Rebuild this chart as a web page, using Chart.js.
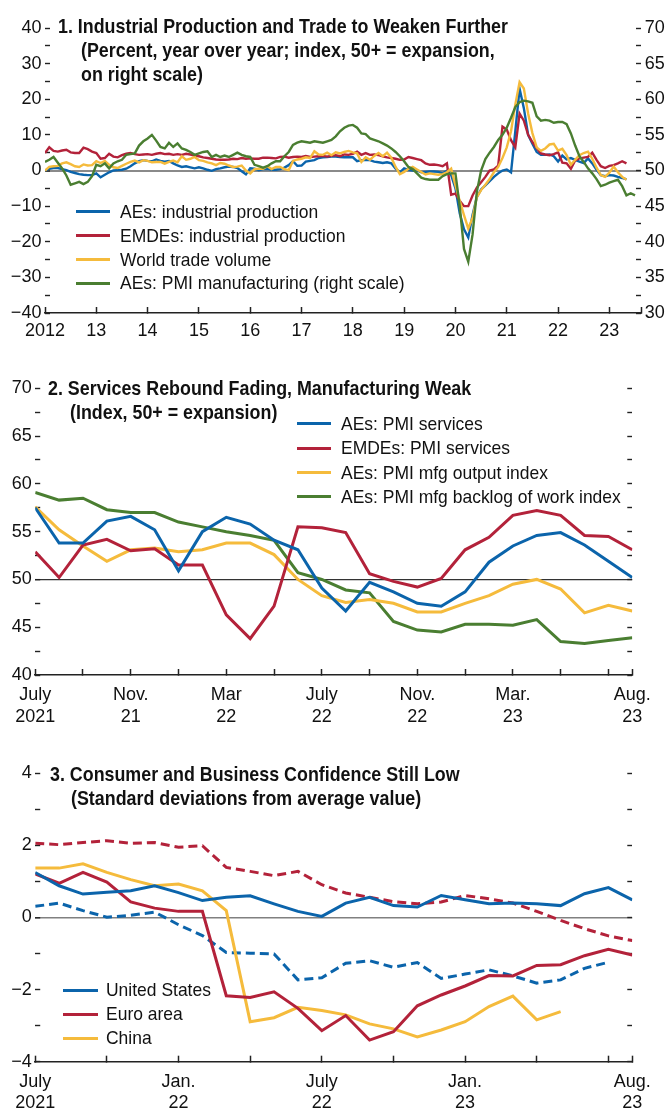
<!DOCTYPE html>
<html><head><meta charset="utf-8">
<script src="https://cdn.jsdelivr.net/npm/chart.js@4.4.0/dist/chart.umd.min.js"></script>
<style>
html,body{margin:0;padding:0;background:#fff}
body{width:666px;height:1113px;position:relative;overflow:hidden;font-family:"Liberation Sans",Arial,sans-serif;color:#111}
canvas{position:absolute;left:0}
.t{position:absolute;white-space:nowrap;font-weight:bold;font-size:21px;line-height:24px;transform:scaleX(0.85);transform-origin:0 50%}
.l{position:absolute;white-space:nowrap;font-size:19px;line-height:24px;transform:scaleX(0.92);transform-origin:0 50%}
.s{position:absolute;height:3px}
</style></head><body>
<canvas id="c1" width="666" height="345" style="top:0px"></canvas>
<canvas id="c2" width="666" height="385" style="top:345px"></canvas>
<canvas id="c3" width="666" height="383" style="top:730px"></canvas>
<div id="ov"></div>
<script>
// ---------- Panel 1 data (monthly, Jan 2012 onward) ----------
const p1AEsIP = [0.0,0.5,0.7,0.7,0.4,0.1,-0.4,-0.7,-1.0,-1.2,
-1.3,-1.3,-0.8,-1.9,-1.2,-0.5,0.0,0.1,0.2,0.5,
1.2,2.0,2.6,2.9,2.7,2.6,3.1,2.7,2.5,2.7,
2.0,1.4,1.0,1.2,0.9,0.6,0.9,0.6,0.2,-0.1,
0.4,0.6,0.9,1.1,1.0,0.7,-0.2,-1.1,0.6,0.5,
0.1,0.4,0.5,0.2,0.2,0.4,0.8,1.5,2.6,1.3,
1.4,2.5,2.7,2.9,3.5,3.7,3.8,3.9,3.9,3.8,
3.7,3.7,3.7,2.6,2.9,2.9,2.9,2.5,2.3,2.1,
2.3,2.0,0.5,-0.5,0.6,0.2,0.0,0.0,-0.5,-0.4,
-0.3,-0.3,-0.4,-0.8,-0.1,-1.3,-5.0,-12.0,-16.5,-18.8,
-12.5,-7.5,-5.3,-4.2,-3.0,-1.8,-0.8,0.0,0.3,-0.5,
11.0,23.0,17.5,10.0,7.5,5.2,4.4,4.4,4.5,4.0,
2.5,4.2,3.1,3.5,3.0,2.5,2.1,3.4,2.0,0.2,
-1.3,-1.6,-1.3,-1.4,-1.8,-2.1,-2.5];
const p1EMDEsIP = [4.9,6.5,5.5,5.3,5.6,5.8,5.1,4.9,4.9,6.4,
6.0,5.3,4.9,3.3,3.5,4.7,3.9,3.7,4.3,4.7,
4.9,4.6,4.4,4.5,4.6,4.4,4.7,4.9,4.6,4.7,
4.4,4.6,4.4,4.7,4.5,4.2,4.0,3.7,3.5,3.3,
3.1,3.0,3.0,3.1,3.3,3.2,3.5,3.3,3.4,3.3,
3.3,3.6,3.6,3.5,3.4,3.8,3.9,3.6,3.8,3.9,
3.8,4.1,3.8,3.9,4.0,4.1,3.9,4.1,4.3,4.0,
4.5,4.4,4.7,5.3,4.4,4.9,4.4,4.5,4.3,4.0,
3.7,3.5,3.3,3.0,3.1,3.8,3.5,3.2,2.9,2.0,
1.6,1.7,1.5,1.2,2.0,-6.8,-6.5,-8.5,-10.0,-10.0,
-7.0,-4.8,-3.3,-1.8,0.0,0.3,1.4,12.3,11.5,8.5,
6.5,16.0,14.0,10.0,8.0,6.3,4.8,4.5,4.3,4.6,
5.1,2.2,2.0,0.5,2.8,3.4,3.6,3.8,5.0,3.0,
1.2,0.7,1.3,1.5,2.0,2.6,2.0];
const p1TradeVolume = [0.0,1.0,1.2,1.3,2.0,2.3,1.8,1.2,1.0,1.7,
1.4,1.5,2.6,2.1,2.7,1.6,0.9,0.7,1.3,1.9,
2.4,2.8,2.3,2.9,2.7,2.3,2.4,2.4,1.9,2.4,
2.8,2.3,4.0,3.0,3.3,3.8,2.9,2.7,2.3,2.0,
1.5,2.1,1.9,1.4,1.0,1.1,1.4,0.0,-0.8,0.4,
0.5,0.5,1.2,0.4,1.0,1.0,0.4,0.1,2.7,3.1,
3.3,3.7,3.5,5.4,4.5,4.4,5.0,4.3,5.1,4.8,
5.2,5.5,5.1,4.8,2.4,3.7,3.0,4.1,4.9,4.0,
5.0,3.6,1.0,-1.0,-0.4,0.5,1.0,0.3,-0.4,-1.1,
-0.8,-1.0,-1.2,-1.0,-0.5,0.5,-4.2,-8.5,-12.5,-16.3,
-13.3,-7.5,-5.5,-4.0,-2.4,-0.5,1.0,3.5,6.5,11.0,
18.5,24.8,23.0,16.0,10.5,6.5,5.5,6.2,7.3,7.5,
5.6,6.1,4.3,1.6,3.0,4.3,4.9,5.3,3.3,0.8,
-1.3,-1.8,-0.6,1.1,-0.5,-1.8,-2.6];
const p1AEsPMI = [51.2,51.5,51.9,51.1,50.3,49.3,48.0,48.2,48.4,48.1,
48.4,49.2,50.8,50.6,51.0,50.3,51.0,51.3,51.5,52.2,
52.3,52.4,53.5,54.1,54.5,55.0,54.2,53.3,53.1,53.9,
53.3,53.8,53.1,52.9,52.6,52.2,52.4,52.6,52.7,51.9,
52.2,51.9,52.1,51.9,52.2,52.5,52.2,52.0,51.9,50.8,
50.6,50.4,50.6,51.0,51.3,51.3,52.0,52.6,53.6,53.9,
54.1,54.0,53.9,54.1,54.0,53.9,54.1,54.3,54.8,55.5,
56.0,56.3,56.4,56.0,55.2,55.1,54.5,54.3,54.1,53.8,
53.5,53.1,52.6,52.0,51.3,50.5,50.2,49.6,49.0,48.8,
48.7,48.7,48.7,49.2,49.5,49.6,49.6,45.0,39.0,37.2,
41.0,47.0,50.0,51.6,52.5,53.3,54.3,55.0,56.0,57.4,
58.9,59.6,59.8,59.7,59.5,57.6,57.0,57.1,57.0,56.7,
56.8,56.8,56.5,55.2,53.5,52.0,51.2,50.3,49.6,48.8,
47.8,48.0,48.3,48.5,48.7,47.8,46.5,46.8,46.5];
const p1YearTicks = [0,12,24,36,48,60,72,84,96,108,120,132];
const p1YearLabels = ['2012','13','14','15','16','17','18','19','20','21','22','23'];
const p1LeftTicks = [-40,-35,-30,-25,-20,-15,-10,-5,0,5,10,15,20,25,30,35,40];
const p1RightTicks = [30,32.5,35,37.5,40,42.5,45,47.5,50,52.5,55,57.5,60,62.5,65,67.5,70];

// ---------- Panel 2 data (monthly, July 2021 - Aug 2023) ----------
const p2AEsServices = [57.5,53.8,53.8,56.1,56.6,55.2,50.9,55.0,56.5,55.8,54.1,53.1,49.1,46.7,49.7,48.7,47.5,47.2,48.7,51.8,53.5,54.6,54.9,53.6,51.9,50.2];
const p2EMDEsServices = [52.9,50.2,53.6,54.2,53.0,53.2,51.5,51.5,46.3,43.8,47.2,55.5,55.4,54.9,50.6,49.8,49.2,50.1,53.1,54.4,56.7,57.2,56.7,54.6,54.5,53.1];
const p2MfgOutput = [57.6,55.2,53.5,51.9,53.1,53.3,52.9,53.1,53.8,53.8,52.6,50.0,48.3,47.6,47.9,47.5,46.6,46.6,47.5,48.3,49.5,50.0,49.0,46.5,47.3,46.7];
const p2MfgBacklog = [59.1,58.3,58.5,57.3,57.0,57.0,56.0,55.5,55.0,54.6,54.1,50.7,50.0,48.9,48.6,45.6,44.7,44.5,45.3,45.3,45.2,45.8,43.5,43.3,43.6,43.9];
const p2XTicks = [0,2,4,6,8,10,12,14,16,18,20,22,24,25];
const p2XLabelMonths = [0,4,8,12,16,20,25];
const p2XLabels = [['July','2021'],['Nov.','21'],['Mar','22'],['July','22'],['Nov.','22'],['Mar.','23'],['Aug.','23']];
const p2YTicks = [40,42.5,45,47.5,50,52.5,55,57.5,60,62.5,65,67.5,70];

// ---------- Panel 3 data (monthly, July 2021 - Aug 2023) ----------
const p3USSolid = [1.25,0.88,0.65,0.70,0.74,0.88,0.69,0.47,0.56,0.60,0.38,0.17,0.03,0.40,0.56,0.33,0.29,0.61,0.49,0.38,0.40,0.38,0.33,0.66,0.83,0.49];
const p3USDashed = [0.31,0.40,0.19,0.01,0.06,0.15,-0.20,-0.50,-0.97,-0.99,-1.01,-1.73,-1.67,-1.27,-1.20,-1.38,-1.25,-1.69,-1.57,-1.45,-1.62,-1.82,-1.73,-1.41,-1.24];
const p3EuroSolid = [1.21,0.95,1.25,0.98,0.43,0.26,0.17,0.17,-2.17,-2.22,-2.06,-2.52,-3.14,-2.72,-3.40,-3.17,-2.45,-2.15,-1.90,-1.61,-1.62,-1.33,-1.31,-1.06,-0.88,-1.04];
const p3EuroDashed = [2.06,2.02,2.08,2.13,2.06,2.08,1.95,1.99,1.39,1.28,1.16,1.28,0.91,0.68,0.56,0.44,0.38,0.43,0.61,0.52,0.40,0.17,-0.08,-0.31,-0.51,-0.64];
const p3ChinaSolid = [1.37,1.37,1.49,1.25,1.05,0.88,0.93,0.74,0.19,-2.89,-2.78,-2.49,-2.58,-2.70,-2.95,-3.09,-3.31,-3.12,-2.89,-2.47,-2.18,-2.84,-2.61];
const p3XTicks = [0,3,6,9,12,15,18,21,24,25];
const p3XLabelMonths = [0,6,12,18,25];
const p3XLabels = [['July','2021'],['Jan.','22'],['July','22'],['Jan.','23'],['Aug.','23']];
const p3YTicks = [-4,-3,-2,-1,0,1,2,3,4];

// ---------- Titles and legends ----------
const BLUE = '#0b64ab', RED = '#b3223a', YELLOW = '#f5bb3c', GREEN = '#4a7e31';
const p1Title = ['1. Industrial Production and Trade to Weaken Further','(Percent, year over year; index, 50+ = expansion,','on right scale)'];
const p2Title = ['2. Services Rebound Fading, Manufacturing Weak','(Index, 50+ = expansion)'];
const p3Title = ['3. Consumer and Business Confidence Still Low','(Standard deviations from average value)'];
const p1Legend = ['AEs: industrial production','EMDEs: industrial production','World trade volume','AEs: PMI manufacturing (right scale)'];
const p2Legend = ['AEs: PMI services','EMDEs: PMI services','AEs: PMI mfg output index','AEs: PMI mfg backlog of work index'];
const p3Legend = ['United States','Euro area','China'];

// ---------- helpers ----------
const minus = v => (v < 0 ? '\u2212' + Math.abs(v) : '' + v);
const toXY = arr => arr.map((v, i) => ({x: i, y: v}));
const TICKFONT = {family: '"Liberation Sans", Arial, sans-serif', size: 18};
Chart.defaults.font.family = TICKFONT.family;

function xAxis(tickVals, labelFn, height, max, pad) {
  return {
    type: 'linear', min: 0, max: max,
    afterBuildTicks: s => { s.ticks = tickVals.map(v => ({value: v})); },
    afterFit: s => { s.height = height; },
    ticks: {autoSkip: false, maxRotation: 0, minRotation: 0, font: TICKFONT, color: '#111', padding: pad,
            callback: v => labelFn(v)},
    grid: {drawOnChartArea: false, drawTicks: true, tickLength: -6, tickColor: '#222', tickWidth: 1.5, color: '#222'},
    border: {display: true, color: '#222', width: 1.6}
  };
}
function yAxis(pos, tickVals, labelFn, width, min, max, zeroVal, zeroColor, zeroWidth, pad) {
  return {
    type: 'linear', position: pos, min: min, max: max,
    afterBuildTicks: s => { s.ticks = tickVals.map(v => ({value: v})); },
    afterFit: s => { s.width = width; },
    ticks: {autoSkip: false, font: TICKFONT, color: '#111', padding: pad, callback: v => labelFn(v)},
    grid: {
      drawOnChartArea: zeroVal !== null, drawTicks: true, tickLength: -5, tickColor: '#222', tickWidth: 1.4,
      color: c => (c.tick && c.tick.value === zeroVal ? zeroColor : 'rgba(0,0,0,0)'),
      lineWidth: c => (c.tick && c.tick.value === zeroVal ? zeroWidth : 1)
    },
    border: {display: false}
  };
}
const baseOpts = {
  responsive: false, animation: false, devicePixelRatio: 1,
  plugins: {legend: {display: false}, tooltip: {enabled: false}},
  elements: {point: {radius: 0}, line: {tension: 0, borderCapStyle: 'butt', borderJoinStyle: 'miter'}}
};
function lbl(months, labels) { return v => { const i = months.indexOf(v); return i >= 0 ? labels[i] : ''; }; }

// ---------- Panel 1 ----------
new Chart(document.getElementById('c1'), {
  type: 'line',
  data: {datasets: [
    {data: toXY(p1AEsIP), borderColor: BLUE, borderWidth: 2.4, yAxisID: 'y', order: 3},
    {data: toXY(p1EMDEsIP), borderColor: RED, borderWidth: 2.4, yAxisID: 'y', order: 2},
    {data: toXY(p1TradeVolume), borderColor: YELLOW, borderWidth: 2.4, yAxisID: 'y', order: 1},
    {data: toXY(p1AEsPMI), borderColor: GREEN, borderWidth: 2.4, yAxisID: 'y2', order: 0}
  ]},
  options: Object.assign({}, baseOpts, {
    layout: {padding: {top: 28, left: 0, right: 0, bottom: 0}},
    scales: {
      x: xAxis(p1YearTicks.concat([139.4]), lbl(p1YearTicks, p1YearLabels), 32, 139.4, 13),
      y: yAxis('left', p1LeftTicks, v => (v % 10 === 0 ? minus(v) : ''), 45, -40, 40, 0, '#8a8a8a', 2, 8.6),
      y2: yAxis('right', p1RightTicks, v => (v % 5 === 0 ? '' + v : ''), 25, 30, 70, null, '', 1, 8.7)
    }
  })
});

// ---------- Panel 2 ----------
new Chart(document.getElementById('c2'), {
  type: 'line',
  data: {datasets: [
    {data: toXY(p2AEsServices), borderColor: BLUE, borderWidth: 3, order: 0},
    {data: toXY(p2EMDEsServices), borderColor: RED, borderWidth: 3, order: 1},
    {data: toXY(p2MfgOutput), borderColor: YELLOW, borderWidth: 3, order: 2},
    {data: toXY(p2MfgBacklog), borderColor: GREEN, borderWidth: 3, order: 3}
  ]},
  options: Object.assign({}, baseOpts, {
    layout: {padding: {top: 43.3, left: 0, right: 0, bottom: 0}},
    scales: {
      x: xAxis(p2XTicks, lbl(p2XLabelMonths, p2XLabels), 55, 25, 15.2),
      y: yAxis('left', p2YTicks, v => (v % 5 === 0 ? '' + v : ''), 35, 40, 70, 50, '#333', 1.3, 8.5),
      y2: yAxis('right', p2YTicks, v => '', 24.3, 40, 70, null, '', 1, 4)
    }
  })
});

// ---------- Panel 3 ----------
new Chart(document.getElementById('c3'), {
  type: 'line',
  data: {datasets: [
    {data: toXY(p3USSolid), borderColor: BLUE, borderWidth: 3, order: 0},
    {data: toXY(p3EuroSolid), borderColor: RED, borderWidth: 3, order: 1},
    {data: toXY(p3ChinaSolid), borderColor: YELLOW, borderWidth: 3, order: 2},
    {data: toXY(p3USDashed), borderColor: BLUE, borderWidth: 3, borderDash: [9, 5], order: 3},
    {data: toXY(p3EuroDashed), borderColor: RED, borderWidth: 3, borderDash: [9, 5], order: 4}
  ]},
  options: Object.assign({}, baseOpts, {
    layout: {padding: {top: 43.3, left: 0, right: 0, bottom: 0}},
    scales: {
      x: xAxis(p3XTicks, lbl(p3XLabelMonths, p3XLabels), 51.3, 25, 15.2),
      y: yAxis('left', p3YTicks, v => (v % 2 === 0 ? minus(v) : ''), 35, -4, 4, 0, '#808080', 1.6, 8.5),
      y2: yAxis('right', p3YTicks, v => '', 25, -4, 4, null, '', 1, 4)
    }
  })
});

// ---------- HTML titles & legends ----------
const ov = document.getElementById('ov');
function addText(cls, txt, left, top) {
  const d = document.createElement('div'); d.className = cls; d.textContent = txt;
  d.style.left = left + 'px'; d.style.top = top + 'px'; ov.appendChild(d);
}
function addSwatch(color, left, width, cy) {
  const d = document.createElement('div'); d.className = 's';
  d.style.left = left + 'px'; d.style.width = width + 'px'; d.style.top = (cy - 1.5) + 'px'; d.style.background = color;
  ov.appendChild(d);
}
addText('t', p1Title[0], 58, 14); addText('t', p1Title[1], 81, 38); addText('t', p1Title[2], 81, 62);
addText('t', p2Title[0], 48, 376.3); addText('t', p2Title[1], 70, 400.3);
addText('t', p3Title[0], 50, 762); addText('t', p3Title[1], 71, 786);
const c4 = [BLUE, RED, YELLOW, GREEN];
[211.7, 235.5, 259.3, 283].forEach((cy, i) => { addSwatch(c4[i], 76, 34, cy); addText('l', p1Legend[i], 119.5, cy - 11.8); });
[423.5, 448, 472.3, 496.6].forEach((cy, i) => { addSwatch(c4[i], 297, 34, cy); addText('l', p2Legend[i], 341, cy - 11.8); });
[990, 1014, 1038].forEach((cy, i) => { addSwatch(c4[i], 63, 35, cy); addText('l', p3Legend[i], 106, cy - 11.8); });
</script>
</body></html>
